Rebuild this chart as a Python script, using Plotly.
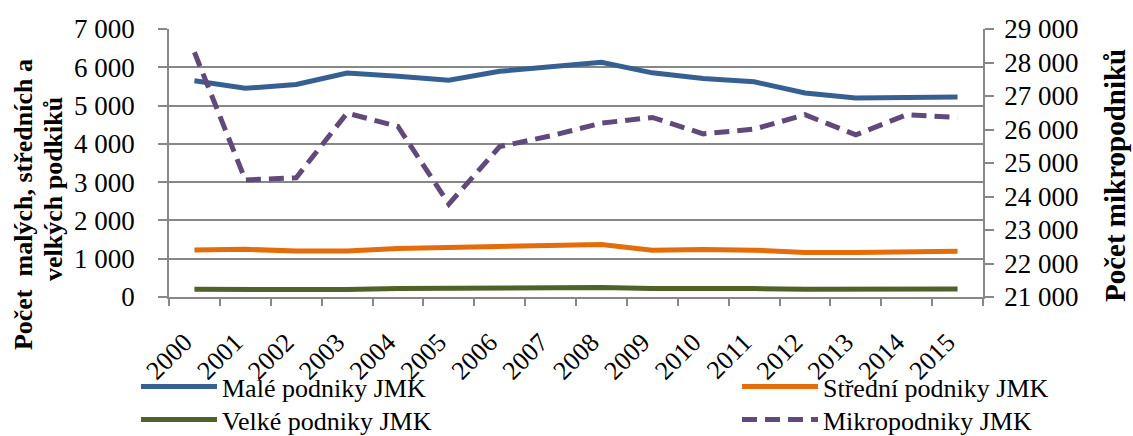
import plotly.graph_objects as go

years = [str(y) for y in range(2000, 2016)]
male = [5650, 5450, 5550, 5850, 5765, 5660, 5895, 6025, 6130, 5855, 5705, 5620, 5330, 5200, 5205, 5225]
stredni = [1225, 1245, 1200, 1200, 1268, 1294, 1294, 1337, 1373, 1224, 1242, 1224, 1163, 1163, 1180, 1197]
velke = [201, 195, 178, 193, 219, 228, 245, 245, 245, 219, 228, 219, 201, 210, 210, 210]
mikro = [28305, 24495, 24560, 26490, 26090, 23775, 25490, 25810, 26190, 26360, 25870, 26010, 26440, 25840, 26440, 26360]

left_ticks = [0, 1000, 2000, 3000, 4000, 5000, 6000, 7000]
right_ticks = [21000, 22000, 23000, 24000, 25000, 26000, 27000, 28000, 29000]

def fmt(v):
    return f"{v:,}".replace(",", " ")

SERIF = "Liberation Serif, Times New Roman, serif"
GRID = "#878787"

# plot area in pixels
L, R, T, B = 169, 983, 29.3, 296.7
PW, PH = R - L, B - T

fig = go.Figure()
fig.add_trace(go.Scatter(x=years, y=male, name="Malé podniky JMK", mode="lines", legend="legend",
                         line=dict(color="#376092", width=5)))
fig.add_trace(go.Scatter(x=years, y=stredni, name="Střední podniky JMK", mode="lines", legend="legend2",
                         line=dict(color="#E46C0A", width=5)))
fig.add_trace(go.Scatter(x=years, y=velke, name="Velké podniky JMK", mode="lines", legend="legend3",
                         line=dict(color="#4F6228", width=5)))
fig.add_trace(go.Scatter(x=years, y=mikro, name="Mikropodniky JMK", mode="lines", yaxis="y2", legend="legend4",
                         line=dict(color="#604A7B", width=5, dash="15px,8px")))

def leg(xpx, ybottom_px):
    return dict(xref="paper", yref="paper", x=(xpx - L) / PW, y=(B - ybottom_px) / PH,
                xanchor="left", yanchor="bottom", itemwidth=76,
                font=dict(family=SERIF, size=26, color="black"), bgcolor="rgba(0,0,0,0)")

fig.update_layout(
    width=1133, height=436,
    margin=dict(l=L, r=1133 - R, t=T, b=436 - B, autoexpand=False),
    paper_bgcolor="white", plot_bgcolor="white",
    font=dict(family=SERIF, size=24, color="black"),
    showlegend=True,
    legend=leg(136, 409.5),
    legend2=leg(737, 409.5),
    legend3=leg(136, 442.5),
    legend4=leg(737, 442.5),
    xaxis=dict(type="category", tickson="boundaries", ticks="outside", ticklen=7,
               tickcolor=GRID, tickwidth=1.5, showline=True, linecolor=GRID, linewidth=1.5,
               showgrid=False, tickangle=-45, tickfont=dict(family=SERIF, size=26),
               ticklabelstandoff=18, ticklabelshift=-10,
               range=[-0.5, 15.5], nticks=20),
    yaxis=dict(range=[0, 7000], tickvals=left_ticks, ticktext=[fmt(v) for v in left_ticks],
               ticks="outside", ticklen=9, tickcolor=GRID, tickwidth=1.5,
               showline=True, linecolor=GRID, linewidth=1.5,
               showgrid=True, gridcolor=GRID, gridwidth=1.5, zeroline=False,
               ticklabelstandoff=18,
               tickfont=dict(family=SERIF, size=27)),
    yaxis2=dict(range=[21000, 29000], tickvals=right_ticks, ticktext=[fmt(v) for v in right_ticks],
                overlaying="y", side="right", ticks="outside", ticklen=9, tickcolor=GRID, tickwidth=1.5,
                showline=True, linecolor=GRID, linewidth=1.5, showgrid=False, zeroline=False,
                ticklabelstandoff=5,
                tickfont=dict(family=SERIF, size=27)),
)

title_font = dict(family=SERIF, size=26, color="black", weight="bold")
fig.add_annotation(text="Počet\u00a0\u00a0malých, středních a", xref="paper", yref="paper",
                   x=(23 - L) / PW, y=(B - 205) / PH, xanchor="center", yanchor="middle", textangle=-90,
                   showarrow=False, font=title_font)
fig.add_annotation(text="velkých podkiků", xref="paper", yref="paper",
                   x=(53 - L) / PW, y=(B - 189) / PH, xanchor="center", yanchor="middle", textangle=-90,
                   showarrow=False, font=title_font)
fig.add_annotation(text="Počet mikropodniků", xref="paper", yref="paper",
                   x=(1115 - L) / PW, y=(B - 176) / PH, xanchor="center", yanchor="middle", textangle=-90,
                   showarrow=False, font=dict(family=SERIF, size=29, color="black", weight="bold"))

fig.write_html("out.html", config={"displayModeBar": False},
               post_script="document.body.style.margin='0';")
